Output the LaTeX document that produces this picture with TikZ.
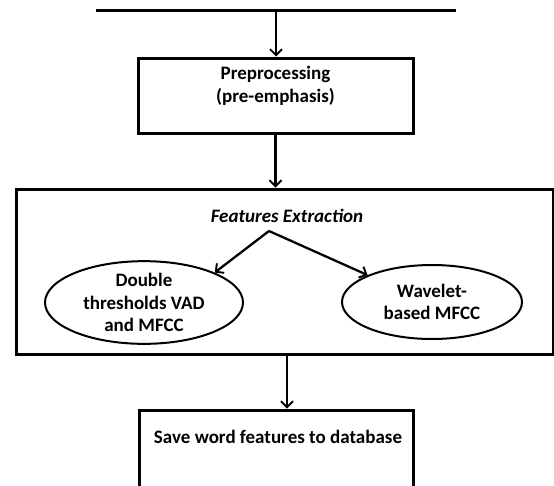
\documentclass[tikz,border=0pt]{standalone}
\usepackage{fontspec}
\setmainfont{Carlito}
\usetikzlibrary{arrows.meta,shapes.geometric}
\begin{document}
\begin{tikzpicture}[x=1pt,y=-1pt,
  font=\bfseries\fontsize{19}{22.5}\selectfont,
  conn/.style={line width=2.3pt,-{Straight Barb[length=6pt,width=12pt,line width=1.9pt]}},
  boxst/.style={draw,line width=3pt,rectangle,inner sep=0pt},
  ellst/.style={draw,line width=2pt,ellipse,inner sep=0pt,align=center},
  txt/.style={align=center,inner sep=0pt}]
\useasboundingbox (0,0) rectangle (554,485);
\clip (0,0) rectangle (554,485);
% top bar
\coordinate (tl) at (96,10);
\coordinate (tr) at (456,10);
\coordinate (tsrc) at (276,10);
\draw[line width=3pt] (tl) -- (tr);
% preprocessing
\node[boxst,minimum width=275pt,minimum height=75pt] (pre) at (275.5,95.5) {};
\node[txt] (pretxt) at (275.5,86) {Preprocessing\\(pre-emphasis)};
\draw[conn] (tsrc) -- (tsrc |- pre.north);
% features extraction box
\node[boxst,minimum width=537pt,minimum height=165pt] (big) at (284.5,271.5) {};
\node[txt] (fe) at (287,216) {\itshape Features Extraction};
\coordinate (v) at (269,231);
\node[ellst,minimum width=198pt,minimum height=75pt] (e1) at (144,302.5) {Double\\thresholds VAD\\and MFCC};
\node[ellst,minimum width=180pt,minimum height=74pt] (e2) at (432,302) {Wavelet-\\based MFCC};
\draw[conn] (v) -- (e1.north east);
\draw[conn] (v) -- (e2.north west);
\draw[conn] (pre.south) -- (pre.south |- big.north);
% save box
\node[boxst,minimum width=274pt,minimum height=90pt] (save) at (276,455) {};
\node[txt] (savetxt) at (278,437) {Save word features to database};
\coordinate (bsrc) at (287,354);
\draw[conn] (bsrc) -- (bsrc |- save.north);
\end{tikzpicture}
\end{document}
